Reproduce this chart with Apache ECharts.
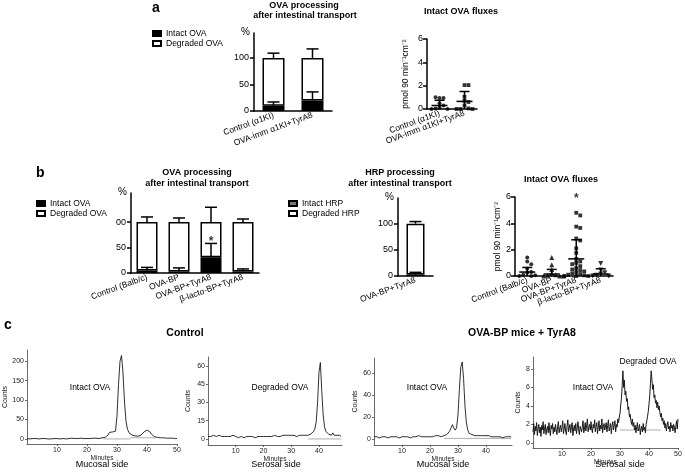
<!DOCTYPE html>
<html><head><meta charset="utf-8">
<script src="https://cdn.jsdelivr.net/npm/echarts@6/dist/echarts.min.js"></script>
<style>html,body{margin:0;padding:0;background:#fff}#c{width:685px;height:472px}</style>
</head><body><div id="c"></div>
<script>
// ---------------- DATA ----------------
// Panel a
const aCats = ['Control (α1KI)', 'OVA-imm α1KI+TyrA8'];
const aIntact = [10, 20];
const aIntactSD = [7, 16];
const aDegraded = [90, 80];
const aTotalSD = [9, 17];
const aBarTicks = [0, 50, 100];
const aFluxCtrl = [0.95, 0.95, 1.0, 0.5, 0.3, 0.1, 0.05, 0, 0];
const aFluxImm = [2.05, 2.05, 1.05, 0.7, 0.6, 0.3, 0.05, 0, 0, 0];
const aFluxMean = [0.3, 0.65];
const aFluxSD = [0.45, 0.85];
const fluxTicks = [0, 2, 4, 6];

// Panel b
const bCats = ['Control (Balb/c)', 'OVA-BP', 'OVA-BP+TyrA8', 'β-lacto-BP+TyrA8'];
const bIntact = [5, 3, 31, 3];
const bIntactSD = [6, 7, 27, 5];
const bDegraded = [95, 97, 69, 97];
const bTotalSD = [10, 8, 29, 6];
const bBarTicks = [0, 50, 100];
const bBarTickText = ['0', '50', '00'];
const bBarStar = [null, null, 67, null];
const hrpCats = ['OVA-BP+TyrA8'];
const hrpIntact = [3];
const hrpIntactSD = [4];
const hrpDegraded = [97];
const hrpTotalSD = [4];
const hrpTicks = [0, 50, 100];
const bFluxCtrl = [1.4, 1.1, 0.9, 0.55, 0.3, 0.25, 0.1, 0.05, 0, 0];
const bFluxOvaBp = [1.4, 0.85, 0.5, 0.2, 0.1, 0.05, 0, 0, 0];
const bFluxOvaBpTyr = [4.8, 4.6, 3.75, 3.65, 2.85, 2.7, 2.1, 1.75, 1.3, 1.1, 1.0, 0.9, 0.75, 0.6, 0.5, 0.45, 0.35, 0.3, 0.2, 0.15, 0.1, 0.05, 0, 0, 0];
const bFluxLacto = [0.95, 0.45, 0.25, 0.15, 0.05, 0, 0];
const bFluxMean = [0.3, 0.15, 1.3, 0.15];
const bFluxSD = [0.35, 0.35, 1.45, 0.4];
const bFluxStar = [null, null, 6.1, null];

// Panel c  (counts sampled every cStep minutes starting at 0)
const c1Step = 0.5;
const c1Counts = [1,1,0,1,1,0,1,1,0,1, 1,0,1,1,0,1,0,1,1,0, 1,1,0,1,1,1,0,1,1,1, 2,1,1,2,1,1,2,1,1,2, 1,2,1,1,2,1,2,2,1,2,
  3,3,4,6,10,17,22,18,14,20, 60,140,200,215,170,95,45,25,16,12, 10,9,8,7,7,8,10,14,18,21, 23,22,18,12,8,6,5,4,4,3, 3,3,2,2,2,2,1,2,1,1, 1];
const c1Base1 = [[25.5, 0], [34.5, 0]];
const c1Base2 = [[34.5, 3], [43, 3]];
const c1YTicks = [0, 50, 100, 150, 200];
const c1XTicks = [10, 20, 30, 40, 50];

const c2Step = 0.5;
const c2Counts = [2,3,2,2,3,2,2,2,3,2, 2,1,2,2,2,3,2,2,3,2, 2,2,1,2,2,2,1,2,2,2, 2,1,2,2,1,2,2,2,2,1, 2,2,2,3,2,2,2,2,3,2,
  2,3,2,3,3,2,3,2,3,3, 3,2,3,3,2,3,3,2,3,3, 3,3,3,3,4,5,6,8,14,30, 55,63,40,20,10,6,5,4,4,3, 5,3,2,3,2,3,2];
const c2Base = [[36, 0], [48, 0]];
const c2YTicks = [0, 15, 30, 45, 60];
const c2XTicks = [10, 20, 30, 40];

const c3Step = 0.5;
const c3Counts = [2,1,2,2,1,2,2,1,2,2, 1,2,2,1,2,1,2,2,1,2, 2,1,2,1,2,2,1,2,2,1, 2,2,3,2,2,2,2,3,2,2, 2,3,2,2,3,2,3,3,2,3,
  3,4,4,5,7,10,13,10,8,10, 22,45,65,70,55,30,15,8,5,4, 4,4,3,4,3,3,3,4,3,3, 3,2,3,3,2,3,2,2,2,2, 2,2,1,2,2,2,2,1,2];
const c3Base = [[25, 0.5], [49, 0.5]];
const c3YTicks = [0, 20, 40, 60];
const c3XTicks = [10, 20, 30, 40];

const c4Step = 0.25;
const c4Counts = [
  1.2,2.1,0.9,1.8,1.3,2.2,0.8,1.5,2.0,1.1,1.7,0.7,1.9,1.4,2.3,1.0,1.6,2.0,0.9,1.5,
  1.8,1.1,2.2,1.3,0.8,1.9,1.5,2.1,1.0,1.7,1.2,2.0,1.4,0.9,1.8,2.3,1.1,1.6,1.9,1.2,
  1.7,2.4,1.0,1.5,2.1,1.3,0.9,1.8,2.5,1.2,1.6,2.0,1.1,1.7,2.2,0.8,1.5,1.9,1.3,2.1,
  1.0,1.6,2.3,1.4,0.9,1.8,2.0,1.2,1.7,2.4,1.1,1.5,2.2,1.3,1.9,2.6,1.2,1.7,2.0,1.4,
  2.3,1.5,1.1,2.0,1.6,2.5,1.2,1.8,2.2,1.0,1.7,2.4,1.3,1.9,1.5,2.6,1.1,1.8,2.1,1.4,
  1.6,2.2,1.2,1.9,2.5,1.3,1.7,2.1,1.0,1.8,2.3,1.4,1.6,2.4,1.2,2.0,1.7,2.6,2.2,2.8,
  3.2,4.1,4.8,6.2,7.8,6.0,6.8,5.2,5.6,4.5,4.8,3.6,3.9,2.8,3.1,2.4,2.0,2.6,1.8,2.2,
  1.4,1.9,1.1,1.7,2.2,1.3,1.6,2.0,0.9,1.5,1.8,1.2,2.1,1.4,1.7,1.1,2.0,2.4,2.9,3.4,
  4.2,5.1,6.4,7.8,6.9,5.8,6.3,4.9,5.2,4.3,4.6,3.8,4.4,3.6,4.0,3.3,2.8,3.2,2.4,2.7,
  2.0,2.4,1.6,2.1,1.3,1.9,2.3,1.5,1.8,1.2,2.2,1.6,1.9,1.3,2.0,1.7,1.1,1.8,2.4,1.5,
  2.6];
const c4Base = [[30, 1.4], [44, 1.4]];
const c4YTicks = [0, 2, 4, 6, 8];
const c4XTicks = [10, 20, 30, 40, 50];

// ---------------- RENDER ----------------
const FONT = '"Liberation Sans", Arial, Helvetica, sans-serif';
const chart = echarts.init(document.getElementById('c'), null, {renderer: 'canvas'});

const toPairs = (arr, step) => arr.map((v, i) => [i * step, v]);

function swarm(vals, ppu) {
  const placed = [];
  return vals.map(v => {
    const y = v * ppu;
    const cands = [0, 4, -4, 8, -8, 12, -12];
    let best = 0, bestN = Infinity;
    for (const c of cands) {
      const n = placed.filter(p => Math.abs(p[0] - y) < 3.5 && Math.abs(p[1] - c) < 3.5).length;
      if (n === 0) { best = c; bestN = 0; break; }
      if (n < bestN) { bestN = n; best = c; }
    }
    placed.push([y, best]);
    return best;
  });
}

function catX(grid, data) {
  return {type: 'category', gridIndex: grid, data,
    axisLine: {show: true, lineStyle: {color: '#000', width: 1.5}},
    axisTick: {show: false},
    axisLabel: {rotate: 20, interval: 0, fontSize: 8.5, color: '#000', fontFamily: FONT, margin: 4},
    splitLine: {show: false}};
}
function barY(grid, max, ticks, texts) {
  return {type: 'value', gridIndex: grid, min: 0, max,
    name: '%', nameLocation: 'end', nameGap: 1,
    nameTextStyle: {fontSize: 10, color: '#000', fontFamily: FONT, align: 'right', verticalAlign: 'middle', padding: [0, 4, 0, 0]},
    axisLine: {show: true, lineStyle: {color: '#000', width: 1.5}},
    axisTick: {show: true, customValues: ticks, length: 4, lineStyle: {color: '#000', width: 1.5}},
    axisLabel: {customValues: ticks, formatter: v => texts[ticks.indexOf(v)], fontSize: 9, color: '#000', fontFamily: FONT, margin: 5},
    splitLine: {show: false}};
}
function fluxY(grid, gap) {
  return {type: 'value', gridIndex: grid, min: 0, max: 6, interval: 2,
    name: 'pmol 90 min⁻¹cm⁻²', nameLocation: 'middle', nameGap: gap,
    nameTextStyle: {fontSize: 8.5, color: '#000', fontFamily: FONT},
    axisLine: {show: true, lineStyle: {color: '#000', width: 1.5}},
    axisTick: {show: true, customValues: fluxTicks, length: 4, lineStyle: {color: '#000', width: 1.5}},
    axisLabel: {customValues: fluxTicks, fontSize: 9, color: '#000', fontFamily: FONT, margin: 4},
    splitLine: {show: false}};
}
function chromX(grid, max, ticks) {
  return {type: 'value', gridIndex: grid, min: 0, max,
    name: 'Minutes', nameLocation: 'middle', nameGap: 9,
    nameTextStyle: {fontSize: 6.5, color: '#222', fontFamily: FONT},
    axisLine: {show: true, onZero: false, lineStyle: {color: '#444', width: 0.8}},
    axisTick: {show: true, customValues: ticks, length: 2, lineStyle: {color: '#444', width: 0.8}},
    axisLabel: {customValues: ticks, fontSize: 7, color: '#222', fontFamily: FONT, margin: 3},
    splitLine: {show: false}};
}
function chromY(grid, min, max, ticks, gap) {
  return {type: 'value', gridIndex: grid, min, max,
    name: 'Counts', nameLocation: 'middle', nameGap: gap,
    nameTextStyle: {fontSize: 7, color: '#222', fontFamily: FONT},
    axisLine: {show: true, onZero: false, lineStyle: {color: '#444', width: 0.8}},
    axisTick: {show: true, customValues: ticks, length: 2, lineStyle: {color: '#444', width: 0.8}},
    axisLabel: {customValues: ticks, fontSize: 7, color: '#222', fontFamily: FONT, margin: 3},
    splitLine: {show: false}};
}

const blackBar = {color: '#000', borderColor: '#000', borderWidth: 1.5};
const whiteBar = {color: '#fff', borderColor: '#000', borderWidth: 1.5};
const grayBar = {color: '#777', borderColor: '#000', borderWidth: 1.5};

function errRender(params, api) {
  const b = api.coord([api.value(0), api.value(1)]);
  const t = api.coord([api.value(0), api.value(2)]);
  const st = {stroke: '#000', lineWidth: 1.5};
  return {type: 'group', children: [
    {type: 'line', shape: {x1: b[0], y1: b[1], x2: t[0], y2: t[1]}, style: st},
    {type: 'line', shape: {x1: t[0] - 6, y1: t[1], x2: t[0] + 6, y2: t[1]}, style: st}
  ]};
}
function msRender(params, api) {
  const m = api.coord([api.value(0), api.value(1)]);
  const lo = api.coord([api.value(0), api.value(2)]);
  const hi = api.coord([api.value(0), api.value(3)]);
  const st = {stroke: '#000', lineWidth: 1.5};
  const ch = [
    {type: 'line', shape: {x1: m[0] - 8, y1: m[1], x2: m[0] + 8, y2: m[1]}, style: st},
    {type: 'line', shape: {x1: lo[0], y1: lo[1], x2: hi[0], y2: hi[1]}, style: st},
    {type: 'line', shape: {x1: hi[0] - 5, y1: hi[1], x2: hi[0] + 5, y2: hi[1]}, style: st}
  ];
  if (api.value(2) > 0) ch.push({type: 'line', shape: {x1: lo[0] - 5, y1: lo[1], x2: lo[0] + 5, y2: lo[1]}, style: st});
  return {type: 'group', children: ch};
}

function barSet(axis, stack, intact, intactSD, degraded, totalSD, width, intactName, degName, intactStyle) {
  return [
    {type: 'bar', name: intactName, xAxisIndex: axis, yAxisIndex: axis, stack, data: intact, barWidth: width, itemStyle: intactStyle, z: 2},
    {type: 'bar', name: degName, xAxisIndex: axis, yAxisIndex: axis, stack, data: degraded, barWidth: width, itemStyle: whiteBar, z: 2},
    {type: 'custom', xAxisIndex: axis, yAxisIndex: axis, renderItem: errRender, z: 3,
      data: intact.map((v, i) => [i, v, v + intactSD[i]])},
    {type: 'custom', xAxisIndex: axis, yAxisIndex: axis, renderItem: errRender, z: 3,
      data: intact.map((v, i) => [i, v + degraded[i], v + degraded[i] + totalSD[i]])}
  ];
}
function fluxSet(axis, groups, symbols, means, sds, ppu) {
  const out = [];
  groups.forEach((vals, g) => {
    const dx = swarm(vals, ppu);
    const sym = symbols[g][0];
    out.push({type: 'scatter', xAxisIndex: axis, yAxisIndex: axis, symbol: sym, symbolRotate: symbols[g][1],
      symbolSize: sym === 'triangle' ? 5 : (sym === 'rect' ? 3.8 : 4), itemStyle: {color: '#000'}, z: 3,
      data: vals.map((v, k) => ({value: [g, v], symbolOffset: [dx[k], 0]}))});
  });
  out.push({type: 'custom', xAxisIndex: axis, yAxisIndex: axis, renderItem: msRender, z: 4,
    data: means.map((m, i) => [i, m, Math.max(0, m - sds[i]), m + sds[i]])});
  return out;
}
function starSet(axis, stars) {
  return {type: 'scatter', xAxisIndex: axis, yAxisIndex: axis, symbolSize: 1, clip: false, z: 5,
    itemStyle: {color: 'rgba(0,0,0,0)'},
    label: {show: true, formatter: '*', position: 'inside', fontSize: 12, fontWeight: 'bold', color: '#000', fontFamily: FONT, offset: [0, 3]},
    data: stars.map((v, i) => v === null ? null : [i, v]).filter(d => d)};
}
function chromLine(axis, data, w) {
  return {type: 'line', xAxisIndex: axis, yAxisIndex: axis, data, showSymbol: false, symbol: 'none',
    lineStyle: {color: '#1a1a1a', width: w}, z: 3};
}
function baseLine(axis, data) {
  return {type: 'line', xAxisIndex: axis, yAxisIndex: axis, data, showSymbol: false, symbol: 'none',
    lineStyle: {color: '#999', width: 0.8}, z: 2};
}

const texts = [
  ['a', 152, 8, 'bold 14px', 'left'],
  ['OVA processing', 304, 6, 'bold 9px', 'center'],
  ['after intestinal transport', 305, 16, 'bold 9px', 'center'],
  ['Intact OVA fluxes', 461, 12, 'bold 9px', 'center'],
  ['b', 36, 173, 'bold 14px', 'left'],
  ['OVA processing', 197, 173, 'bold 9px', 'center'],
  ['after intestinal transport', 197, 184, 'bold 9px', 'center'],
  ['HRP processing', 400, 173, 'bold 9px', 'center'],
  ['after intestinal transport', 400, 184, 'bold 9px', 'center'],
  ['Intact OVA fluxes', 561, 180, 'bold 9px', 'center'],
  ['c', 4, 325, 'bold 14px', 'left'],
  ['Control', 185, 333, 'bold 10.5px', 'center'],
  ['OVA-BP mice + TyrA8', 522, 333, 'bold 10.5px', 'center'],
  ['Intact OVA', 90, 388, '8.5px', 'center'],
  ['Degraded OVA', 280, 388, '8.5px', 'center'],
  ['Intact OVA', 427, 388, '8.5px', 'center'],
  ['Intact OVA', 593, 388, '8.5px', 'center'],
  ['Degraded OVA', 648, 362, '8.5px', 'center'],
  ['Mucosal side', 102, 465, '9px', 'center'],
  ['Serosal side', 276, 465, '9px', 'center'],
  ['Mucosal side', 443, 465, '9px', 'center'],
  ['Serosal side', 620, 465, '9px', 'center']
];

const legendBase = {orient: 'vertical', padding: 0, itemWidth: 8, itemHeight: 5, itemGap: 1, icon: 'rect', selectedMode: false,
  textStyle: {fontSize: 8.5, color: '#000', fontFamily: FONT}};

const option = {
  animation: false,
  backgroundColor: '#fff',
  textStyle: {fontFamily: FONT},
  grid: [
    {left: 254, top: 33, width: 78, height: 78},
    {left: 427, top: 39, width: 50, height: 70},
    {left: 131, top: 193, width: 128, height: 80},
    {left: 398, top: 198, width: 35, height: 78},
    {left: 515, top: 197, width: 98, height: 79},
    {left: 27, top: 350, width: 150, height: 94},
    {left: 208, top: 357, width: 134, height: 88},
    {left: 374, top: 358, width: 138, height: 87},
    {left: 533, top: 357, width: 145, height: 91}
  ].map(g => Object.assign(g, {containLabel: false, outerBoundsMode: 'none'})),
  legend: [
    Object.assign({}, legendBase, {left: 152, top: 29, data: ['Intact OVA', 'Degraded OVA']}),
    Object.assign({}, legendBase, {left: 36, top: 199, data: ['Intact OVA', 'Degraded OVA']}),
    Object.assign({}, legendBase, {left: 288, top: 199, data: ['Intact HRP', 'Degraded HRP']})
  ],
  xAxis: [
    catX(0, aCats), catX(1, aCats), catX(2, bCats), catX(3, hrpCats), catX(4, bCats),
    chromX(5, 50, c1XTicks), chromX(6, 48.3, c2XTicks), chromX(7, 49.3, c3XTicks), chromX(8, 50, c4XTicks)
  ],
  yAxis: [
    barY(0, 147, aBarTicks, aBarTicks.map(String)),
    fluxY(1, 17),
    barY(2, 157, bBarTicks, bBarTickText),
    barY(3, 149, hrpTicks, hrpTicks.map(String)),
    fluxY(4, 10),
    chromY(5, -13, 229, c1YTicks, 16),
    chromY(6, -5, 67.5, c2YTicks, 16),
    chromY(7, -5.5, 73.6, c3YTicks, 15),
    chromY(8, -0.55, 9.3, c4YTicks, 11)
  ],
  graphic: texts.map(t => ({type: 'text', x: t[1], y: t[2], silent: true,
    style: {text: t[0], font: t[3] + ' ' + FONT, fill: '#000', align: t[4], verticalAlign: 'middle'}})),
  series: [].concat(
    barSet(0, 'a', aIntact, aIntactSD, aDegraded, aTotalSD, 22, 'Intact OVA', 'Degraded OVA', blackBar),
    fluxSet(1, [aFluxCtrl, aFluxImm], [['circle', 0], ['rect', 0]], aFluxMean, aFluxSD, 70 / 6),
    barSet(2, 'b', bIntact, bIntactSD, bDegraded, bTotalSD, 21, 'Intact OVA', 'Degraded OVA', blackBar),
    [starSet(2, bBarStar)],
    barSet(3, 'h', hrpIntact, hrpIntactSD, hrpDegraded, hrpTotalSD, 18, 'Intact HRP', 'Degraded HRP', grayBar),
    fluxSet(4, [bFluxCtrl, bFluxOvaBp, bFluxOvaBpTyr, bFluxLacto],
      [['circle', 0], ['triangle', 0], ['rect', 0], ['triangle', 180]], bFluxMean, bFluxSD, 79 / 6),
    [starSet(4, bFluxStar)],
    [baseLine(5, c1Base1), baseLine(5, c1Base2), chromLine(5, toPairs(c1Counts, c1Step), 0.9)],
    [baseLine(6, c2Base), chromLine(6, toPairs(c2Counts, c2Step), 0.9)],
    [baseLine(7, c3Base), chromLine(7, toPairs(c3Counts, c3Step), 0.9)],
    [baseLine(8, c4Base), chromLine(8, toPairs(c4Counts, c4Step), 1)]
  )
};
chart.setOption(option);
</script>
</body></html>
